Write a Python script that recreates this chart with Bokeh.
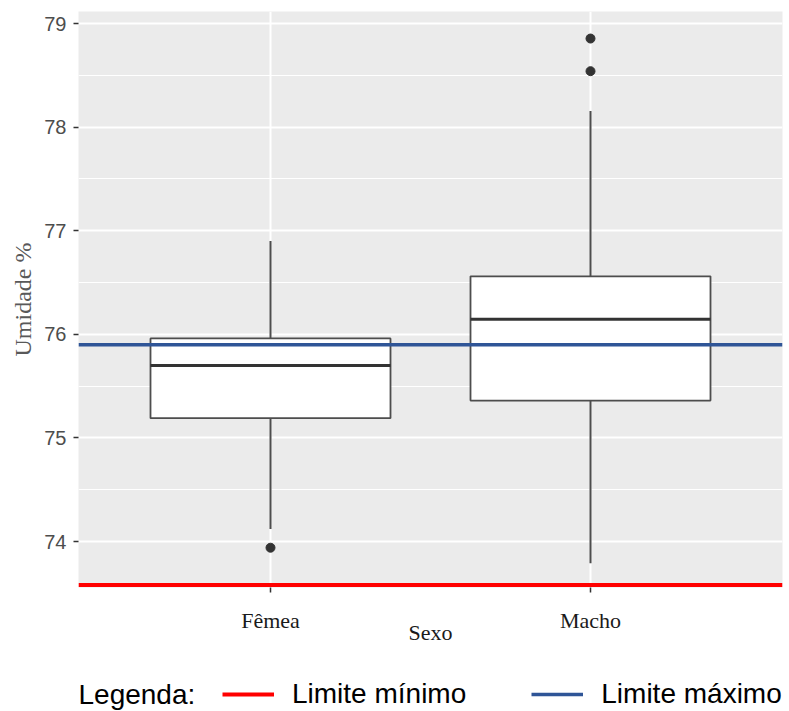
from bokeh.plotting import figure
from bokeh.layouts import column
from bokeh.models import FixedTicker, Range1d, Legend, LegendItem, Label, ColumnDataSource
from bokeh.embed import file_html
from bokeh.resources import INLINE

# ---- data ----
categories = ["Fêmea", "Macho"]
cat_pos = [1, 2]
lower_whisker = [74.12, 73.79]
q1 = [75.19, 75.36]
median = [75.70, 76.145]
q3 = [75.96, 76.56]
upper_whisker = [76.90, 78.155]
outlier_group = ["Fêmea", "Macho", "Macho"]
outlier_values = [73.94, 78.54, 78.855]
y_ticks = [74, 75, 76, 77, 78, 79]
y_minor_ticks = [73.5, 74.5, 75.5, 76.5, 77.5, 78.5]
limit_min = 73.58
limit_max = 75.90
limit_labels = ["Limite mínimo", "Limite máximo"]
legend_title = "Legenda:"
box_width = 0.75

x_start, x_end = 0.4, 2.6
y_start, y_end = 73.556, 79.116

min_style = dict(line_color="#FF0000", line_width=4)
max_style = dict(line_color="#2F5597", line_width=3.5)

p = figure(width=788, height=648, output_backend="svg", toolbar_location=None,
           x_range=Range1d(x_start, x_end), y_range=Range1d(y_start, y_end),
           min_border_left=78, min_border_right=6, min_border_top=11, min_border_bottom=61)
p.background_fill_color = "#EBEBEB"
p.border_fill_color = "white"
p.outline_line_color = None

# grids
p.xaxis.ticker = FixedTicker(ticks=cat_pos)
p.yaxis.ticker = FixedTicker(ticks=y_ticks, minor_ticks=y_minor_ticks)
p.xgrid.grid_line_color = "white"
p.xgrid.grid_line_width = 2
p.ygrid.grid_line_color = "white"
p.ygrid.grid_line_width = 2
p.ygrid.minor_grid_line_color = "white"
p.ygrid.minor_grid_line_width = 1

# axes
for ax in (p.xaxis[0], p.yaxis[0]):
    ax.axis_line_color = None
    ax.major_tick_line_color = "#333333"
    ax.major_tick_line_width = 1.5
    ax.major_tick_out = 5
    ax.major_tick_in = 0
    ax.minor_tick_line_color = None

p.yaxis.major_label_text_font = "Liberation Sans"
p.yaxis.major_label_text_font_size = "20px"
p.yaxis.major_label_text_color = "#4D4D4D"
p.yaxis.major_label_standoff = 7
p.yaxis.axis_label = "Umidade %"
p.yaxis.axis_label_text_font = "Liberation Serif"
p.yaxis.axis_label_text_font_size = "24px"
p.yaxis.axis_label_text_font_style = "normal"
p.yaxis.axis_label_text_color = "#595959"
p.yaxis.axis_label_standoff = 5

p.xaxis.major_label_overrides = {pos: cat for pos, cat in zip(cat_pos, categories)}
p.xaxis.major_label_text_font = "Liberation Serif"
p.xaxis.major_label_text_font_size = "22px"
p.xaxis.major_label_text_color = "#1A1A1A"
p.xaxis.major_label_standoff = 15
p.xaxis.axis_label = "Sexo"
p.xaxis.axis_label_text_font = "Liberation Serif"
p.xaxis.axis_label_text_font_size = "22px"
p.xaxis.axis_label_text_font_style = "normal"
p.xaxis.axis_label_text_color = "#1A1A1A"
p.xaxis.axis_label_standoff = -16

# ---- boxplots ----
box_src = ColumnDataSource(dict(
    x=cat_pos, low=lower_whisker, q1=q1, med=median, q3=q3, up=upper_whisker,
    left=[c - box_width / 2 for c in cat_pos], right=[c + box_width / 2 for c in cat_pos]))
p.segment(x0="x", y0="q3", x1="x", y1="up", source=box_src, line_color="#4D4D4D", line_width=2)
p.segment(x0="x", y0="q1", x1="x", y1="low", source=box_src, line_color="#4D4D4D", line_width=2)
p.vbar(x="x", width=box_width, bottom="q1", top="q3", source=box_src,
       fill_color="white", line_color="#4D4D4D", line_width=1.8)
p.segment(x0="left", y0="med", x1="right", y1="med", source=box_src,
          line_color="#333333", line_width=3)

pos_of = dict(zip(categories, cat_pos))
p.scatter(x=[pos_of[g] for g in outlier_group], y=outlier_values, size=9,
          fill_color="#333333", line_color="#333333")

# ---- limit lines ----
p.line(x=[x_start, x_end], y=[limit_min, limit_min], **min_style)
p.line(x=[x_start, x_end], y=[limit_max, limit_max], **max_style)

# ---- legend strip below the chart ----
lg = figure(width=788, height=62, output_backend="svg", toolbar_location=None,
            x_axis_type=None, y_axis_type=None, x_range=Range1d(0, 1), y_range=Range1d(0, 1),
            min_border_left=78, min_border_right=0, min_border_top=0, min_border_bottom=0,
            outline_line_color=None)
lg.grid.visible = False
nan = float("nan")
k_min = lg.line(x=[nan], y=[nan], **min_style)   # legend keys only (nothing drawn)
k_max = lg.line(x=[nan], y=[nan], **max_style)
legend = Legend(items=[LegendItem(label=limit_labels[0], renderers=[k_min]),
                       LegendItem(label=limit_labels[1], renderers=[k_max])],
                orientation="horizontal", location=(144, 0),
                padding=0, margin=0, spacing=65, label_standoff=18,
                glyph_width=52, glyph_height=32, label_height=32,
                label_text_font="Liberation Sans", label_text_font_size="28px",
                label_text_color="black", border_line_color=None,
                background_fill_alpha=0)
lg.add_layout(legend)
lg.add_layout(Label(x=0, y=16, x_units="screen", y_units="screen", text=legend_title,
                    text_font="Liberation Sans", text_font_size="28px", text_color="black",
                    text_baseline="middle", text_align="left"))

open("out.html", "w").write(file_html(column(p, lg, spacing=0), INLINE))
